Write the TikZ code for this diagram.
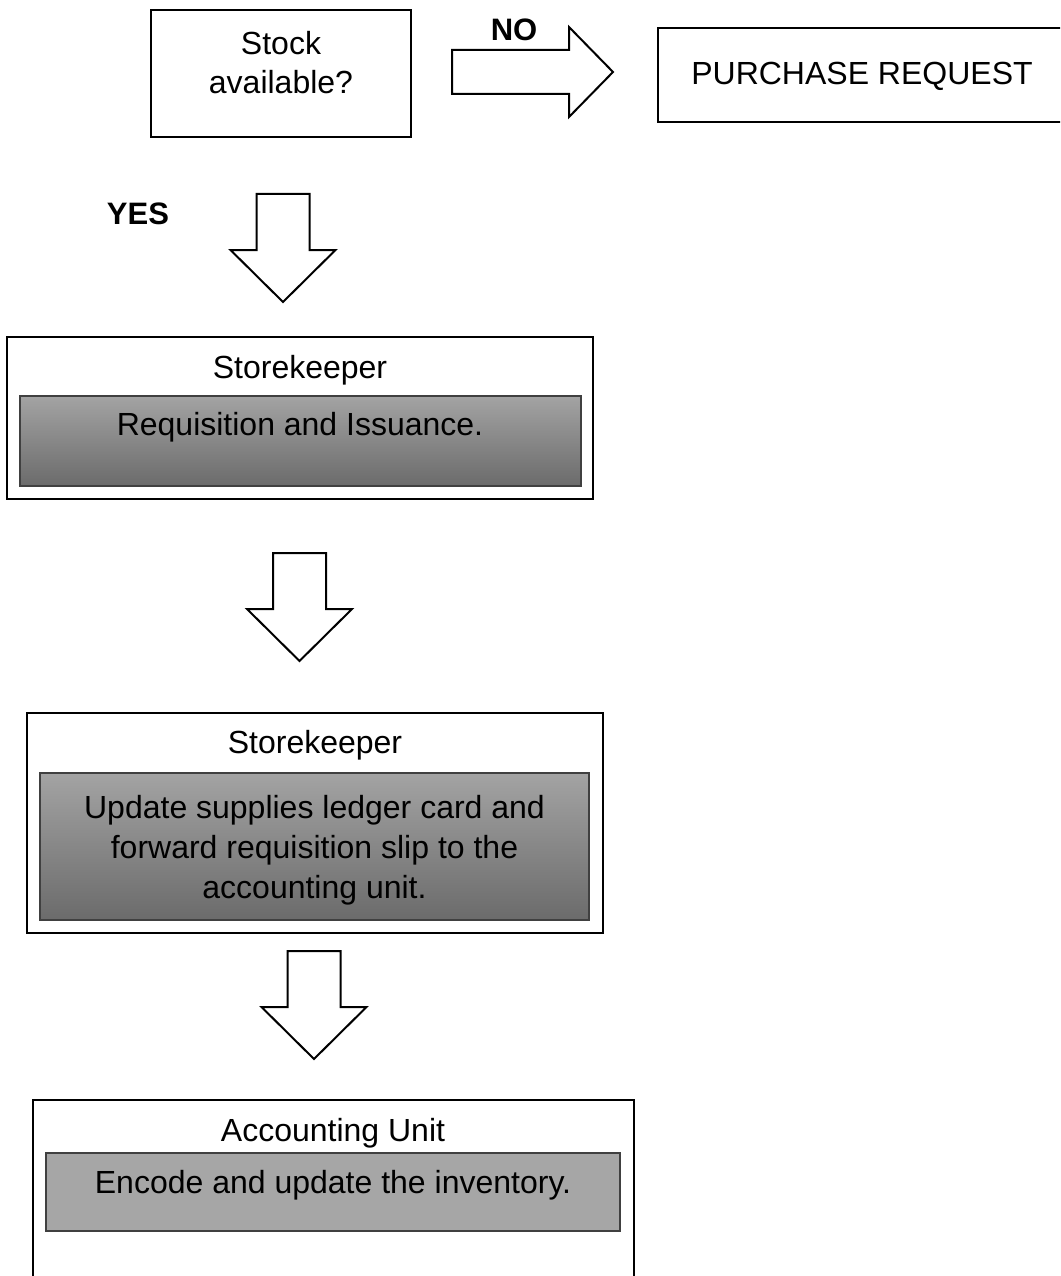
\documentclass[tikz,border=0pt]{standalone}
\usepackage{fontspec}
\setmainfont{Liberation Sans}
\begin{document}
\begin{tikzpicture}[x=1pt,y=-1pt,
  every node/.style={inner sep=0pt, outer sep=0pt},
  txt/.style={font=\fontsize{32}{40}\selectfont, anchor=base},
  btxt/.style={font=\fontsize{31}{39}\selectfont\bfseries, anchor=base},
  frame/.style={draw=black, line width=2pt, fill=white, rectangle},
  panel/.style={draw=black!75, line width=1.5pt, rectangle},
  gradpanel/.style={panel, top color=black!36, bottom color=black!58},
  flatpanel/.style={panel, fill=black!35},
  blk/.style={draw=black, line width=2pt, fill=white, line join=miter},
  downarrow/.pic={\path[blk] (-26.5,0) -- (26.5,0) -- (26.5,56) -- (52.5,56) -- (0,108) -- (-52.5,56) -- (-26.5,56) -- cycle;}
]
\useasboundingbox (0,0) rectangle (1060,1276);
\clip (0,0) rectangle (1060,1276);

% decision
\node[frame, minimum width=260, minimum height=127] (stock) at (281,73.5) {};
\node[txt] (stockA) at (281,55) {Stock};
\node[txt] (stockB) at (281,94) {available?};

% NO arrow
\path[blk] (452,50) -- (569,50) -- (569,27) -- (613,72) -- (569,117) -- (569,94) -- (452,94) -- cycle;
\node[btxt] (no) at (514,41) {NO};

\node[frame, minimum width=420, minimum height=94] (purchase) at (868,75) {};
\node[txt] (purchaseT) at (862,85) {PURCHASE REQUEST};

% YES arrow
\node[btxt] (yes) at (138,224) {YES};
\pic at (283,194) {downarrow};

% box 1
\node[frame, minimum width=586, minimum height=162] (sk1) at (300,418) {};
\node[gradpanel, minimum width=561, minimum height=90] (sk1in) at (300.5,441) {};
\node[txt] (sk1T) at (300,378) {Storekeeper};
\node[txt] (sk1D) at (300,435) {Requisition and Issuance.};

\pic at (299.5,553) {downarrow};

% box 2
\node[frame, minimum width=576, minimum height=220] (sk2) at (315,823) {};
\node[gradpanel, minimum width=549, minimum height=147] (sk2in) at (314.5,846.5) {};
\node[txt] (sk2T) at (315,753) {Storekeeper};
\node[txt] (sk2A) at (314.5,818) {Update supplies ledger card and};
\node[txt] (sk2B) at (314.5,858) {forward requisition slip to the};
\node[txt] (sk2C) at (314.5,898) {accounting unit.};

\pic at (314,951) {downarrow};

% box 3
\node[frame, minimum width=601, minimum height=200] (acc) at (333.5,1200) {};
\node[flatpanel, minimum width=574, minimum height=78] (accin) at (333,1192) {};
\node[txt] (accT) at (333,1141) {Accounting Unit};
\node[txt] (accD) at (333,1193) {Encode and update the inventory.};
\end{tikzpicture}
\end{document}
